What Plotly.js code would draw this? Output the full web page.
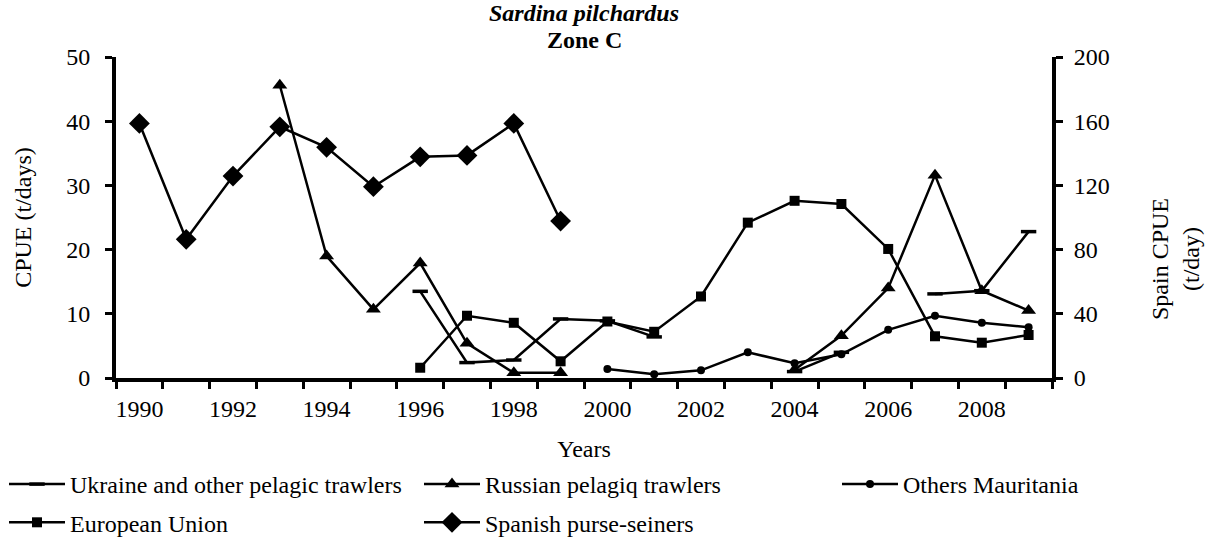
<!DOCTYPE html>
<html lang="en">
<head>
<meta charset="UTF-8">
<title>Sardina pilchardus - Zone C</title>
<script src="https://cdn.plot.ly/plotly-3.0.1.min.js"></script>
<style>
  body { margin: 0; background: #fff; }
  #chart { width: 1213px; height: 542px; }
</style>
</head>
<body>
<div id="chart"></div>
<script>
// Years on the x axis (one category per year)
const years = [1990, 1991, 1992, 1993, 1994, 1995, 1996, 1997, 1998, 1999,
               2000, 2001, 2002, 2003, 2004, 2005, 2006, 2007, 2008, 2009];
const yearLabels = [1990, 1992, 1994, 1996, 1998, 2000, 2002, 2004, 2006, 2008];
const yearBounds = [1989.5, 1990.5, 1991.5, 1992.5, 1993.5, 1994.5, 1995.5, 1996.5, 1997.5, 1998.5, 1999.5,
                    2000.5, 2001.5, 2002.5, 2003.5, 2004.5, 2005.5, 2006.5, 2007.5, 2008.5, 2009.5];

// CPUE (t/days), left axis
const ukraine  = [null, null, null, null, null, null, 13.5, 2.4, 2.8, 9.2,
                  8.9, 6.4, null, null, 1.0, 4.0, null, 13.1, 13.6, 22.8];
const russian  = [null, null, null, 45.6, 19.0, 10.7, 17.9, 5.4, 0.8, 0.8,
                  null, null, null, null, 1.3, 6.6, 14.0, 31.6, 13.6, 10.5];
const others   = [null, null, null, null, null, null, null, null, null, null,
                  1.4, 0.6, 1.2, 4.0, 2.3, 3.7, 7.5, 9.7, 8.6, 7.9];
const euUnion  = [null, null, null, null, null, null, 1.6, 9.7, 8.6, 2.6,
                  8.8, 7.2, 12.7, 24.2, 27.6, 27.1, 20.1, 6.5, 5.5, 6.7];
// Spain CPUE (t/day), right axis
const spanish  = [158.6, 86.4, 125.8, 156.5, 143.7, 119.2, 137.8, 138.7, 158.6, 97.8,
                  null, null, null, null, null, null, null, null, null, null];

const font = 'Liberation Serif, Times New Roman, serif';
const ink = '#000';
const fs = 24;

function series(name, y, symbol, size, legend, yaxis) {
    return {
        x: years, y: y, name: name,
        type: 'scatter', mode: 'lines+markers',
        yaxis: yaxis || 'y',
        legend: legend, legendgroup: name,
        line: { color: ink, width: 2.5 },
        marker: { symbol: symbol, size: size, color: ink,
                  line: { color: ink, width: symbol === 'line-ew' ? 3.5 : 0 } },
        hoverinfo: 'x+y+name'
    };
}

const traces = [
    series('Ukraine and other pelagic trawlers', ukraine, 'line-ew', 11, 'legend'),
    series('Russian pelagiq trawlers', russian, 'triangle-up', 13, 'legend2'),
    series('Others Mauritania', others, 'circle', 8, 'legend3'),
    series('European Union', euUnion, 'square', 10, 'legend'),
    series('Spanish purse-seiners', spanish, 'diamond', 16, 'legend2', 'y2')
];

// plot area spans 116..1052 px; legends are placed in pixels converted to paper x
const px = v => (v - 116) / 936;
const legendBase = {
    orientation: 'v', xref: 'paper', yref: 'container',
    y: 1 - 462 / 542, yanchor: 'top', xanchor: 'left',
    font: { family: font, size: fs, color: ink },
    itemwidth: 56, tracegroupgap: 4, bgcolor: 'rgba(0,0,0,0)', borderwidth: 0
};

const layout = {
    width: 1213, height: 542,
    margin: { l: 116, r: 161, t: 57, b: 164, autoexpand: false },
    paper_bgcolor: '#fff', plot_bgcolor: '#fff',
    font: { family: font, size: fs, color: ink },
    title: {
        text: '<b><i>Sardina pilchardus</i></b>',
        font: { family: font, size: fs, color: ink },
        x: 0.5, xref: 'paper', y: 1 - 13 / 542, yref: 'container', yanchor: 'middle'
    },
    xaxis: {
        range: [1989.5, 2009.5],
        tickmode: 'array', tickvals: yearLabels, ticktext: yearLabels.map(String),
        ticks: '', showgrid: false, zeroline: false,
        showline: true, linecolor: ink, linewidth: 4,
        tickfont: { family: font, size: fs, color: ink },
        ticklabelstandoff: 6,
        minor: { tickmode: 'array', tickvals: yearBounds, ticks: 'outside',
                 ticklen: 7, tickwidth: 3, tickcolor: ink, showgrid: false },
        title: { text: 'Years', font: { family: font, size: fs, color: ink }, standoff: 24 }
    },
    yaxis: {
        range: [0, 50], dtick: 10, tick0: 0,
        ticks: 'outside', ticklen: 7, tickwidth: 3, tickcolor: ink,
        showgrid: false, zeroline: false,
        showline: true, linecolor: ink, linewidth: 4,
        tickfont: { family: font, size: fs, color: ink },
        ticklabelstandoff: 10,
        title: { text: 'CPUE (t/days)', font: { family: font, size: fs, color: ink }, standoff: 29 }
    },
    yaxis2: {
        overlaying: 'y', side: 'right',
        range: [0, 200], dtick: 40, tick0: 0,
        ticks: 'outside', ticklen: 7, tickwidth: 3, tickcolor: ink,
        showgrid: false, zeroline: false,
        showline: true, linecolor: ink, linewidth: 4,
        tickfont: { family: font, size: fs, color: ink },
        ticklabelstandoff: 6
    },
    annotations: [
        { text: '<b>Zone C</b>', xref: 'paper', yref: 'paper', x: 0.5, y: 1 + 17 / 321,
          yanchor: 'middle', showarrow: false, font: { family: font, size: fs, color: ink } },
        { text: 'Spain CPUE<br>(t/day)', xref: 'paper', yref: 'paper',
          x: px(1175), y: (378 - 259) / 321, xanchor: 'center', yanchor: 'middle', textangle: -90,
          showarrow: false, font: { family: font, size: fs, color: ink } }
    ],
    showlegend: true,
    legend:  Object.assign({}, legendBase, { x: px(4) }),
    legend2: Object.assign({}, legendBase, { x: px(419) }),
    legend3: Object.assign({}, legendBase, { x: px(837) })
};

Plotly.newPlot('chart', traces, layout, { displayModeBar: false, responsive: false });
</script>
</body>
</html>
